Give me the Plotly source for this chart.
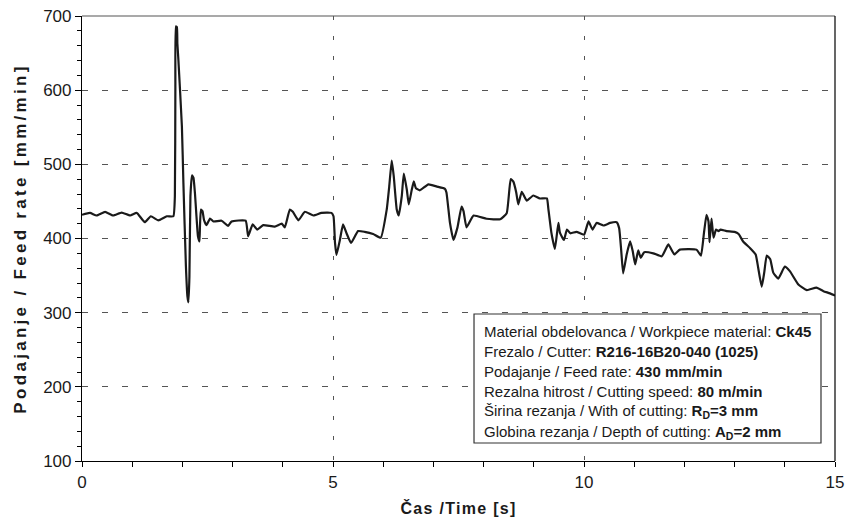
import plotly.graph_objects as go

# ---- data ----
time_s = [0.00, 0.16, 0.29, 0.46, 0.62, 0.79, 0.96, 1.09, 1.25, 1.37, 1.52, 1.69, 1.82, 1.85, 1.86,
          1.87, 1.89, 1.90, 1.92, 1.99, 2.02, 2.07, 2.10, 2.12, 2.14, 2.16, 2.19, 2.22, 2.25, 2.28,
          2.31, 2.34, 2.35, 2.37, 2.40, 2.43, 2.48, 2.55, 2.62, 2.78, 2.91, 2.98, 3.26, 3.31, 3.40,
          3.49, 3.61, 3.84, 3.98, 4.04, 4.14, 4.20, 4.31, 4.44, 4.61, 4.77, 4.97, 5.01, 5.04, 5.07,
          5.14, 5.20, 5.27, 5.36, 5.50, 5.63, 5.80, 5.95, 6.07, 6.12, 6.17, 6.21, 6.27, 6.31, 6.37,
          6.41, 6.47, 6.51, 6.57, 6.61, 6.65, 6.73, 6.90, 7.07, 7.23, 7.26, 7.33, 7.40, 7.48, 7.56,
          7.60, 7.66, 7.80, 8.06, 8.33, 8.46, 8.54, 8.59, 8.65, 8.69, 8.76, 8.86, 8.99, 9.12, 9.26,
          9.29, 9.35, 9.42, 9.49, 9.52, 9.60, 9.66, 9.73, 9.85, 10.00, 10.09, 10.17, 10.25, 10.39,
          10.52, 10.65, 10.70, 10.74, 10.78, 10.85, 10.92, 10.97, 11.02, 11.08, 11.13, 11.20, 11.38,
          11.55, 11.68, 11.80, 11.91, 12.24, 12.33, 12.39, 12.44, 12.48, 12.50, 12.54, 12.58, 12.63,
          12.68, 12.72, 12.84, 13.00, 13.08, 13.17, 13.31, 13.42, 13.47, 13.54, 13.59, 13.64, 13.71,
          13.77, 13.87, 14.00, 14.10, 14.27, 14.44, 14.63, 14.77, 14.90, 15.00]
feed_rate = [432, 434.5, 431, 436, 431, 435, 431, 434.5, 422, 430, 424.5, 430, 430, 457, 605,
             686, 685, 663, 641, 551, 475, 363, 322, 314, 349, 457, 485, 482, 461, 430,
             403, 396, 417, 439, 437, 425, 418, 427, 423, 424, 417, 423, 424, 403, 419,
             412, 418, 416, 420, 415, 439, 436, 424.5, 436, 431, 434.5, 434.5, 430, 394, 378,
             399, 419, 407, 394, 410, 409, 406, 401, 439, 470, 505, 484, 439, 431, 457,
             487.5, 466, 446, 466, 477, 468, 465, 473, 470, 467, 462, 421, 398, 415, 443,
             437, 415, 431, 426.6, 426, 434, 480, 477, 462, 446, 463, 451, 458, 454, 454,
             440, 408, 386, 421, 408, 398, 412, 407, 409, 405, 423, 412, 421, 417.5,
             421, 422, 414, 385, 353, 378.5, 396, 383, 365, 384, 374, 381.6, 380,
             376, 392, 378.5, 385, 385, 377, 407.6, 432, 423, 395, 427, 401, 412,
             410, 412, 410, 409, 406, 396, 387, 378.5, 360.5, 335, 354, 377, 372,
             354, 346, 362, 356, 338, 330.5, 333.7, 329, 326, 323]

x_ticks = [0, 5, 10, 15]
y_ticks = [100, 200, 300, 400, 500, 600, 700]

info_lines = [
    "Material obdelovanca / Workpiece material: <b>Ck45</b>",
    "Frezalo / Cutter: <b>R216-16B20-040 (1025)</b>",
    "Podajanje / Feed rate: <b>430 mm/min</b>",
    "Rezalna hitrost / Cutting speed: <b>80 m/min</b>",
    "Širina rezanja / With of cutting: <b>R<sub>D</sub>=3 mm</b>",
    "Globina rezanja / Depth of cutting: <b>A<sub>D</sub>=2 mm</b>",
]

FONT = "Liberation Sans, Arial, sans-serif"

fig = go.Figure()
fig.add_trace(go.Scatter(
    x=time_s, y=feed_rate, mode="lines",
    line=dict(color="#1a1a1a", width=2.2, shape="spline", smoothing=0.4),
    showlegend=False, hoverinfo="skip",
))

# frame: grey top edge, black right edge
fig.add_shape(type="line", xref="paper", yref="paper", x0=0, x1=1, y0=1, y1=1,
              line=dict(color="#8c8c8c", width=1.5), layer="below")
fig.add_shape(type="line", xref="paper", yref="paper", x0=1, x1=1, y0=0, y1=1,
              line=dict(color="#000000", width=1.2))

# info box
fig.add_shape(type="rect", xref="paper", yref="paper",
              x0=0.5206, x1=0.9814, y0=0.0404, y1=0.3303,
              line=dict(color="#333333", width=1.2), fillcolor="white", layer="above")

line_y_px = [331.7, 351.2, 371.4, 391.6, 411.8, 432.4]
for txt, py in zip(info_lines, line_y_px):
    fig.add_annotation(xref="paper", yref="paper", x=(482 - 82) / 753, y=(461 - py) / 445,
                       text=txt, showarrow=False, xanchor="left", yanchor="middle",
                       font=dict(family=FONT, size=15, color="#1a1a1a"))

fig.update_layout(
    width=845, height=527,
    margin=dict(l=82, r=10, t=16, b=66),
    paper_bgcolor="white", plot_bgcolor="white",
    font=dict(family=FONT, color="#1a1a1a"),
    xaxis=dict(
        range=[0, 15], tickvals=x_ticks, ticktext=[str(v) for v in x_ticks],
        automargin=False,
        showline=True, linecolor="black", linewidth=1.2,
        ticks="outside", ticklen=5, tickcolor="black", tickwidth=1,
        minor=dict(dtick=1, ticks="outside", ticklen=5, tickcolor="black", tickwidth=1, showgrid=False),
        showgrid=True, gridcolor="#555555", gridwidth=1, griddash="4px,16px",
        zeroline=False, tickfont=dict(size=17),
        title=dict(text="<b>Čas /Time [s]</b>", font=dict(size=16), standoff=12),
    ),
    yaxis=dict(
        range=[100, 700], tickvals=y_ticks, ticktext=[str(v) for v in y_ticks],
        automargin=False,
        showline=True, linecolor="black", linewidth=1.2,
        ticks="outside", ticklen=6, tickcolor="black", tickwidth=1,
        minor=dict(dtick=20, ticks="outside", ticklen=4, tickcolor="black", tickwidth=1, showgrid=False),
        showgrid=True, gridcolor="#555555", gridwidth=1, griddash="6px,14px",
        zeroline=False, tickfont=dict(size=17),
        title=dict(text="<b>Podajanje / Feed rate [mm/min]</b>", font=dict(size=17), standoff=12),
    ),
)

# remove the page margin so the figure sits at the window's corner,
# and widen the letter spacing of the axis titles as in the reference
post = """
document.body.style.margin = '0';
document.body.style.overflow = 'hidden';
var gd = document.getElementById('{plot_id}');
function spaceTitles() {
  var yt = gd.querySelector('.ytitle');
  if (yt) { yt.style.letterSpacing = '3.3px'; }
  var xt = gd.querySelector('.xtitle');
  if (xt) { xt.style.letterSpacing = '1.3px'; }
}
spaceTitles();
gd.on('plotly_afterplot', spaceTitles);
"""

fig.write_html("out.html", post_script=post, config={"displayModeBar": False})
